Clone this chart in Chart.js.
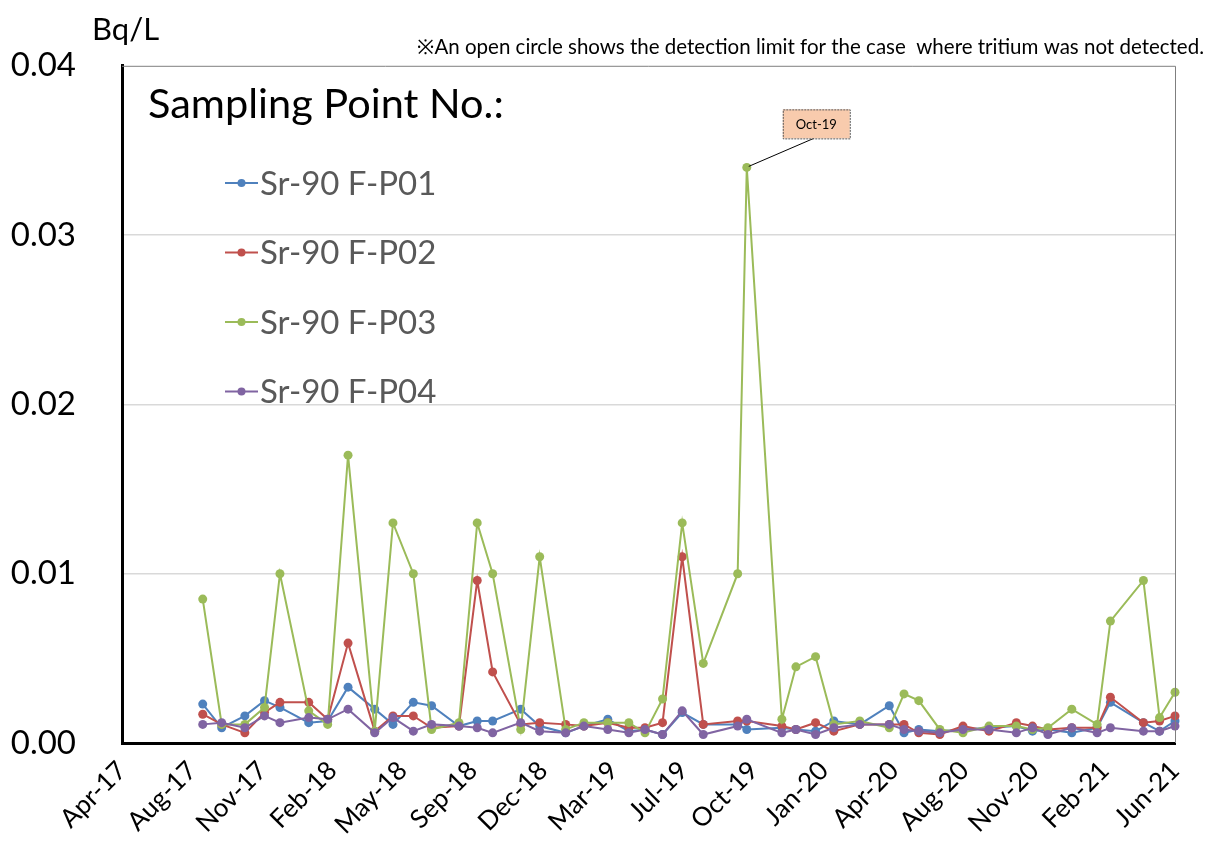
<!DOCTYPE html>
<html>
<head>
<meta charset="utf-8">
<script src="https://cdn.jsdelivr.net/npm/chart.js@4.4.1/dist/chart.umd.min.js"></script>
<style>
  html, body { margin: 0; padding: 0; background: #fff; }
  #wrap { width: 1213px; height: 853px; }
</style>
</head>
<body>
<div id="wrap"><canvas id="chart" width="1213" height="853"></canvas></div>
<script>
// sampling dates
const sampleDates = [
  '2017-08-17', '2017-09-13', '2017-10-16', '2017-11-13', '2017-12-05', '2018-01-15',
  '2018-02-11', '2018-03-12', '2018-04-19', '2018-05-15', '2018-06-13', '2018-07-09',
  '2018-08-17', '2018-09-12', '2018-10-04', '2018-11-13', '2018-12-10', '2019-01-16',
  '2019-02-11', '2019-03-17', '2019-04-16', '2019-05-09', '2019-06-03', '2019-07-01',
  '2019-07-31', '2019-09-18', '2019-10-01', '2019-11-20', '2019-12-10', '2020-01-07',
  '2020-02-02', '2020-03-10', '2020-04-21', '2020-05-12', '2020-06-02', '2020-07-02',
  '2020-08-04', '2020-09-10', '2020-10-19', '2020-11-11', '2020-12-03', '2021-01-06',
  '2021-02-11', '2021-03-02', '2021-04-18', '2021-05-11', '2021-06-02'
];

// Bq/L
const srP01 = [
  0.0023, 0.0009, 0.0016, 0.0025, 0.0021, 0.0012, 0.0013, 0.0033, 0.0020, 0.0011,
  0.0024, 0.0022, 0.0010, 0.0013, 0.0013, 0.0020, 0.0010, 0.0006, 0.0010, 0.0014,
  0.0007, 0.0008, 0.0005, 0.0018, 0.0011, 0.0011, 0.0008, 0.0009, 0.0008, 0.0007,
  0.0013, 0.0011, 0.0022, 0.0006, 0.0008, 0.0007, 0.0008, 0.0009, 0.0010, 0.0007,
  0.0008, 0.0006, 0.0009, 0.0024, 0.0012, 0.0007, 0.0013
];
const srP02 = [
  0.0017, 0.0011, 0.0006, 0.0018, 0.0024, 0.0024, 0.0014, 0.0059, 0.0007, 0.0016,
  0.0016, 0.0009, 0.0010, 0.0096, 0.0042, 0.0011, 0.0012, 0.0011, 0.0010, 0.0012,
  0.0009, 0.0009, 0.0012, 0.0110, 0.0011, 0.0013, 0.0013, 0.0010, 0.0008, 0.0012,
  0.0007, 0.0011, 0.0011, 0.0011, 0.0006, 0.0005, 0.0010, 0.0007, 0.0012, 0.0010,
  0.0008, 0.0009, 0.0009, 0.0027, 0.0012, 0.0013, 0.0016
];
const srP03 = [
  0.0085, 0.0011, 0.0011, 0.0021, 0.0100, 0.0019, 0.0011, 0.0170, 0.0007, 0.0130,
  0.0100, 0.0008, 0.0012, 0.0130, 0.0100, 0.0008, 0.0110, 0.0008, 0.0012, 0.0012,
  0.0012, 0.0006, 0.0026, 0.0130, 0.0047, 0.0100, 0.0340, 0.0014, 0.0045, 0.0051,
  0.0011, 0.0013, 0.0009, 0.0029, 0.0025, 0.0008, 0.0006, 0.0010, 0.0010, 0.0008,
  0.0009, 0.0020, 0.0011, 0.0072, 0.0096, 0.0015, 0.0030
];
const srP04 = [
  0.0011, 0.0012, 0.0009, 0.0016, 0.0012, 0.0015, 0.0014, 0.0020, 0.0006, 0.0015,
  0.0007, 0.0011, 0.0010, 0.0009, 0.0006, 0.0012, 0.0007, 0.0006, 0.0010, 0.0008,
  0.0006, 0.0008, 0.0005, 0.0019, 0.0005, 0.0010, 0.0014, 0.0006, 0.0008, 0.0005,
  0.0009, 0.0011, 0.0011, 0.0008, 0.0007, 0.0006, 0.0008, 0.0008, 0.0006, 0.0009,
  0.0005, 0.0009, 0.0006, 0.0009, 0.0007, 0.0007, 0.0010
];

const seriesNames = ['Sr-90 F-P01', 'Sr-90 F-P02', 'Sr-90 F-P03', 'Sr-90 F-P04'];
const seriesColors = ['#4F81BD', '#C0504D', '#9BBB59', '#8064A2'];

const tickLabels = [
  'Apr-17', 'Aug-17', 'Nov-17', 'Feb-18', 'May-18', 'Sep-18', 'Dec-18', 'Mar-19',
  'Jul-19', 'Oct-19', 'Jan-20', 'Apr-20', 'Aug-20', 'Nov-20', 'Feb-21', 'Jun-21'
];
const yTicks = [0, 0.01, 0.02, 0.03, 0.04];
const axisStart = '2017-04-24';
const tickStepDays = 100;
const calloutText = 'Oct-19';

const FONT = 'Lato, "Open Sans", sans-serif';
const DAY = 86400000;
const dayOf = d => (Date.parse(d) - Date.parse(axisStart)) / DAY;

function makeSeries(values, i) {
  return {
    label: seriesNames[i],
    data: sampleDates.map((d, k) => ({ x: dayOf(d), y: values[k] })),
    borderColor: seriesColors[i],
    backgroundColor: seriesColors[i],
    borderWidth: 2,
    pointRadius: 4.5,
    pointBorderWidth: 0,
    tension: 0,
    clip: false,
    order: 3 - i // later series drawn on top, like the original
  };
}

const decor = {
  id: 'decor',
  afterDraw(chart) {
    const { ctx, chartArea: a } = chart;
    ctx.save();

    // top / right frame
    ctx.strokeStyle = '#7f7f7f';
    ctx.lineWidth = 1;
    ctx.beginPath();
    ctx.moveTo(a.left, a.top + 0.5);
    ctx.lineTo(a.right + 0.5, a.top + 0.5);
    ctx.lineTo(a.right + 0.5, a.bottom);
    ctx.stroke();

    // unit + note
    ctx.fillStyle = '#000';
    ctx.textBaseline = 'alphabetic';
    ctx.textAlign = 'left';
    ctx.font = '31px ' + FONT;
    ctx.fillText('Bq/L', 92, 40);
    ctx.textAlign = 'right';
    ctx.font = '20.5px ' + FONT;
    ctx.fillText('\u203BAn open circle shows the detection limit for the case  where tritium was not detected.', 1204, 54);

    // legend
    ctx.textAlign = 'left';
    ctx.font = '41.5px ' + FONT;
    ctx.fillText('Sampling Point No.:', 148, 118);
    ctx.font = '33px ' + FONT;
    ctx.textBaseline = 'middle';
    seriesNames.forEach((name, i) => {
      const y = 183 + i * 69.5;
      ctx.strokeStyle = seriesColors[i];
      ctx.fillStyle = seriesColors[i];
      ctx.lineWidth = 2;
      ctx.beginPath();
      ctx.moveTo(225, y);
      ctx.lineTo(258, y);
      ctx.stroke();
      ctx.beginPath();
      ctx.arc(241.5, y, 4, 0, Math.PI * 2);
      ctx.fill();
      ctx.fillStyle = '#595959';
      ctx.fillText(name, 260, y + 1);
    });

    // callout on the largest P03 value
    const peak = srP03.indexOf(Math.max(...srP03));
    const pt = chart.getDatasetMeta(2).data[peak];
    const bx = pt.x + 36, by = pt.y - 58, bw = 67, bh = 29;
    ctx.strokeStyle = '#000';
    ctx.lineWidth = 1;
    ctx.beginPath();
    ctx.moveTo(bx + 31, by + bh);
    ctx.lineTo(pt.x + 2, pt.y - 1);
    ctx.stroke();
    ctx.fillStyle = '#F8CBAD';
    ctx.fillRect(bx, by, bw, bh);
    ctx.setLineDash([2, 1]);
    ctx.strokeStyle = '#595959';
    ctx.strokeRect(bx + 0.5, by + 0.5, bw, bh);
    ctx.setLineDash([]);
    ctx.fillStyle = '#000';
    ctx.textAlign = 'center';
    ctx.font = '13px ' + FONT;
    ctx.fillText(calloutText, bx + bw / 2, by + bh / 2 + 1);

    ctx.restore();
  }
};

new Chart(document.getElementById('chart'), {
  type: 'line',
  data: { datasets: [srP01, srP02, srP03, srP04].map(makeSeries) },
  options: {
    responsive: false,
    animation: false,
    layout: { padding: { top: 65, right: 38, left: 0, bottom: 0 } },
    plugins: { legend: { display: false }, tooltip: { enabled: false } },
    scales: {
      x: {
        type: 'linear',
        min: 0,
        max: (tickLabels.length - 1) * tickStepDays,
        afterBuildTicks: s => { s.ticks = tickLabels.map((_, i) => ({ value: i * tickStepDays })); },
        afterFit: s => { s.height = 110; },
        grid: { display: false, drawTicks: false },
        border: { color: '#000', width: 3 },
        ticks: {
          autoSkip: false,
          maxRotation: 45,
          minRotation: 45,
          padding: 12,
          color: '#000',
          font: { family: FONT, size: 26 },
          callback: (v, i) => tickLabels[i]
        }
      },
      y: {
        min: 0,
        max: 0.04,
        afterBuildTicks: s => { s.ticks = yTicks.map(v => ({ value: v })); },
        afterFit: s => { s.width = 122; },
        grid: {
          drawTicks: false,
          lineWidth: 1.5,
          color: c => (c.tick && c.tick.value > 0 && c.tick.value < 0.04) ? '#D9D9D9' : 'rgba(0,0,0,0)'
        },
        border: { color: '#000', width: 3 },
        ticks: {
          padding: 46,
          color: '#000',
          font: { family: FONT, size: 33 },
          callback: v => v.toFixed(2)
        }
      }
    }
  },
  plugins: [decor]
});
</script>
</body>
</html>
